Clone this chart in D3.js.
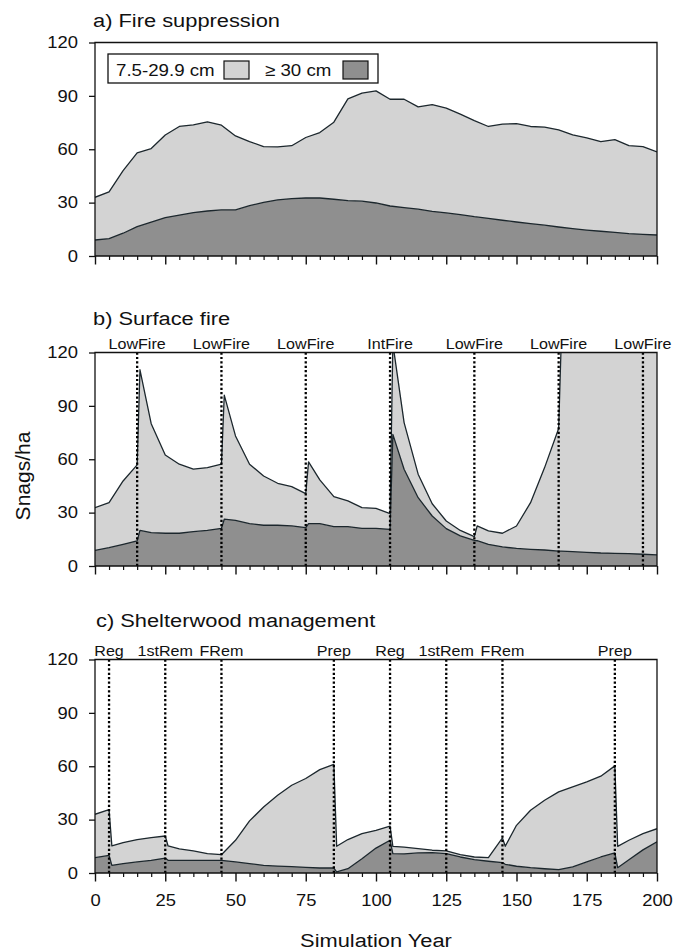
<!DOCTYPE html>
<html>
<head>
<meta charset="utf-8">
<script src="https://cdn.jsdelivr.net/npm/d3@7"></script>
<style>
  body { margin: 0; background: #fff; }
  text { font-family: "Liberation Sans", Arial, sans-serif; fill: #111; }
</style>
</head>
<body>
<svg id="chart"></svg>
<script>
// Snags/ha by size class under three scenarios

const seriesLabels = ["7.5-29.9 cm", "\u2265 30 cm"];
const yTicks = [0, 30, 60, 90, 120];
const xMajorTicks = [0, 25, 50, 75, 100, 125, 150, 175, 200];

// a) Fire suppression
const yearsA = [0, 5, 10, 15, 20, 25, 30, 35, 40, 45, 50, 55, 60, 65, 70, 75, 80, 85, 90, 95, 100,
  105, 110, 115, 120, 125, 130, 135, 140, 145, 150, 155, 160, 165, 170, 175, 180, 185, 190, 195, 200];
const largeA = [9, 9.8, 12.8, 16.5, 19.1, 21.6, 23, 24.4, 25.3, 25.9, 25.9, 28.3, 30.2, 31.5, 32.3, 32.6, 32.6, 31.9, 31.1, 30.8, 29.8,
  28.1, 27.2, 26.3, 25.1, 24.2, 23.3, 22.1, 21.2, 20.1, 19.1, 18.2, 17.3, 16.3, 15.4, 14.6, 13.9, 13.3, 12.6, 12.2, 11.8];
const smallA = [24, 26.2, 35.2, 41.5, 41.3, 46.4, 49.8, 49.3, 50.1, 47.6, 41.6, 36, 31.3, 29.8, 29.7, 34, 36.8, 43.3, 57.2, 60.7, 63,
  60, 60.9, 57.5, 60, 58.9, 56.4, 54, 51.6, 54, 55.3, 54.6, 55.1, 54.6, 52.7, 51.8, 50.4, 52.1, 49.4, 49.3, 46.7];

// b) Surface fire
const yearsB = [0, 5, 10, 15, 16, 20, 25, 30, 35, 40, 45, 46, 50, 55, 60, 65, 70, 75, 76, 80, 85, 90, 95, 100,
  105, 106, 110, 115, 120, 125, 130, 135, 136, 140, 145, 150, 155, 160, 165, 166, 170, 175, 180, 185, 190, 195, 200];
const largeB = [8.8, 10.3, 12.2, 14.1, 20, 18.8, 18.4, 18.4, 19.3, 20, 21.2, 26.3, 25.7, 23.8, 22.9, 22.9, 22.5, 21.6, 23.8, 23.8, 22.1, 22.1, 21.2, 21.2,
  20.6, 74, 54.4, 38.4, 28.1, 21, 16.9, 14.4, 14.2, 12.2, 10.7, 9.9, 9.4, 9, 8.4, 8.4, 8.1, 7.7, 7.3, 7.1, 6.9, 6.6, 6.2];
const smallB = [24, 25.3, 35.6, 42.7, 90.3, 61.2, 44, 38.8, 35.1, 35.3, 36, 69.7, 47.4, 33.4, 27.7, 23.6, 22.1, 19.1, 34.7, 24.6, 16.9, 14.5, 11.6, 11.2,
  8.8, 51, 26.2, 13.2, 6.9, 4.3, 3.1, 2.1, 8.3, 7.5, 7.7, 12.6, 26.2, 46.3, 68.9, 122, 122, 122, 123, 123, 123, 123, 124];
const eventYearsB = [15, 45, 75, 105, 135, 165, 195];
const eventNamesB = ["LowFire", "LowFire", "LowFire", "IntFire", "LowFire", "LowFire", "LowFire"];

// c) Shelterwood management
const yearsC = [0, 5, 6, 10, 15, 20, 25, 26, 30, 35, 40, 45, 50, 55, 60, 65, 70, 75, 80, 85, 86, 90, 95, 100,
  105, 106, 110, 115, 120, 125, 130, 135, 140, 145, 146, 150, 155, 160, 165, 170, 175, 180, 185, 186, 190, 195, 200];
const largeC = [8.6, 9.9, 4.3, 5.3, 6.2, 7.1, 8.4, 7.1, 7.1, 7.1, 7.1, 7.1, 6.2, 5.3, 4.3, 3.9, 3.6, 3.2, 2.8, 2.8, 0.6, 2.4, 8, 14,
  18.4, 10.9, 10.7, 11.3, 11.4, 10.9, 9, 7.5, 6.6, 5.8, 4.9, 3.8, 3, 2.4, 1.9, 3.4, 6.2, 9, 11.3, 3, 7.5, 13, 17.5];
const smallC = [24.4, 25.7, 10.9, 11.8, 12.6, 12.8, 12.4, 8.1, 6.4, 5.3, 3.8, 3.2, 12.2, 24, 32.8, 39.8, 45.7, 49.9, 55.3, 58.3, 14.4, 16.4, 14.1, 10,
  7.9, 4.1, 3.9, 2.4, 1.4, 1.5, 1.3, 1.5, 2, 13.9, 10.1, 23, 32.3, 38.5, 43.7, 45, 45, 45.4, 48.9, 12, 10.9, 9.1, 7.4];
const eventYearsC = [5, 25, 45, 85, 105, 125, 145, 185];
const eventNamesC = ["Reg", "1stRem", "FRem", "Prep", "Reg", "1stRem", "FRem", "Prep"];

// Layout
const width = 686, height = 951;
const plotLeft = 95, plotRight = 657, plotH = 213.5;
const lightFill = "#d3d3d3", darkFill = "#8f8f8f", lineColor = "#1c272d";
const stretchK = 1.15;

const svg = d3.select("#chart").attr("width", width).attr("height", height);

const x = d3.scaleLinear().domain([0, 200]).range([plotLeft, plotRight]);

// image text is a bit wider than Arial, so scale glyphs horizontally around their anchor
function stretch(sel, k) {
  sel.each(function() {
    const t = d3.select(this);
    const tx = +t.attr("x") || 0, ty = +t.attr("y") || 0;
    t.attr("transform", `translate(${tx},${ty}) scale(${k},1) translate(${-tx},${-ty})`);
  });
}

const panels = [
  { id: "a", title: "a) Fire suppression", bottom: 256, titleY: 27, years: yearsA, large: largeA, small: smallA, events: [], names: [] },
  { id: "b", title: "b) Surface fire", bottom: 566, titleY: 325, years: yearsB, large: largeB, small: smallB, events: eventYearsB, names: eventNamesB },
  { id: "c", title: "c) Shelterwood management", bottom: 873, titleY: 627, years: yearsC, large: largeC, small: smallC, events: eventYearsC, names: eventNamesC }
];

panels.forEach((p, pi) => {
  const y = d3.scaleLinear().domain([0, 120]).range([p.bottom, p.bottom - plotH]);
  const g = svg.append("g");

  g.append("clipPath").attr("id", "clip-" + p.id)
    .append("rect")
    .attr("x", plotLeft).attr("y", y(120))
    .attr("width", plotRight - plotLeft).attr("height", plotH);

  const rows = p.years.map((yr, i) => ({ year: yr, large: p.large[i], small: p.small[i] }));
  const stacked = d3.stack().keys(["large", "small"])(rows);

  const area = d3.area()
    .x(d => x(d.data.year))
    .y0(d => y(d[0]))
    .y1(d => y(d[1]));
  const line = d3.line()
    .x(d => x(d.data.year))
    .y(d => y(d[1]));

  const plot = g.append("g").attr("clip-path", `url(#clip-${p.id})`);
  plot.selectAll("path.area")
    .data(stacked)
    .join("path")
    .attr("class", "area")
    .attr("fill", (d, i) => i === 0 ? darkFill : lightFill)
    .attr("d", area);
  plot.selectAll("path.edge")
    .data(stacked)
    .join("path")
    .attr("class", "edge")
    .attr("fill", "none")
    .attr("stroke", lineColor)
    .attr("stroke-width", 1.3)
    .attr("stroke-linejoin", "round")
    .attr("d", line);

  // event markers (dotted)
  g.selectAll("line.event")
    .data(p.events)
    .join("line")
    .attr("class", "event")
    .attr("x1", d => x(d)).attr("x2", d => x(d))
    .attr("y1", y(120)).attr("y2", y(0))
    .attr("stroke", "#000")
    .attr("stroke-width", 2.3)
    .attr("stroke-dasharray", "2.2,2.2");

  const evText = g.selectAll("text.event")
    .data(p.events)
    .join("text")
    .attr("class", "event")
    .attr("x", d => x(d))
    .attr("y", y(120) - 3.5)
    .attr("text-anchor", "middle")
    .attr("font-size", 14)
    .text((d, i) => p.names[i]);
  stretch(evText, stretchK);

  // frame
  g.append("path")
    .attr("d", `M${plotLeft},${y(0)}V${y(120)}H${plotRight}V${y(0)}Z`)
    .attr("fill", "none")
    .attr("stroke", "#111")
    .attr("stroke-width", 1.3);

  // y axis
  const yAxis = g.append("g")
    .attr("transform", `translate(${plotLeft},0)`)
    .call(d3.axisLeft(y).tickValues(yTicks).tickSize(6).tickSizeOuter(0).tickPadding(11));
  yAxis.select(".domain").remove();
  yAxis.selectAll("line").attr("stroke", "#111").attr("stroke-width", 1.3);
  yAxis.selectAll("text").attr("font-size", 16).attr("font-family", null).call(stretch, stretchK);

  // x axis, major + minor ticks
  const minor = d3.range(5, 200, 5).filter(v => v % 25 !== 0);
  const xMinor = g.append("g")
    .attr("transform", `translate(0,${y(0)})`)
    .call(d3.axisBottom(x).tickValues(minor).tickSize(4).tickSizeOuter(0).tickFormat(""));
  xMinor.select(".domain").remove();
  xMinor.selectAll("line").attr("stroke", "#111").attr("stroke-width", 1.2);

  const xMajor = g.append("g")
    .attr("transform", `translate(0,${y(0)})`)
    .call(d3.axisBottom(x).tickValues(xMajorTicks).tickSize(8.5).tickSizeOuter(0).tickPadding(13.5)
      .tickFormat(pi === 2 ? d3.format("d") : () => ""));
  xMajor.select(".domain").remove();
  xMajor.selectAll("line").attr("stroke", "#111").attr("stroke-width", 1.4);
  xMajor.selectAll("text").attr("font-size", 16).attr("font-family", null).call(stretch, stretchK);

  // title
  svg.append("text")
    .attr("x", pi === 2 ? 96 : 93)
    .attr("y", p.titleY)
    .attr("font-size", 19)
    .text(p.title)
    .call(stretch, stretchK);
});

// legend in panel a
const legend = svg.append("g");
legend.append("rect")
  .attr("x", 108).attr("y", 54).attr("width", 270).attr("height", 29)
  .attr("fill", "#fff").attr("stroke", "#111").attr("stroke-width", 1.3);
const legendItems = [
  { label: seriesLabels[0], tx: 116, sx: 224, fill: lightFill },
  { label: seriesLabels[1], tx: 265, sx: 343, fill: darkFill }
];
legend.selectAll("rect.swatch")
  .data(legendItems)
  .join("rect")
  .attr("class", "swatch")
  .attr("x", d => d.sx).attr("y", 61).attr("width", 25).attr("height", 18)
  .attr("fill", d => d.fill).attr("stroke", "#111").attr("stroke-width", 1.2);
legend.selectAll("text")
  .data(legendItems)
  .join("text")
  .attr("x", d => d.tx).attr("y", 76)
  .attr("font-size", 17)
  .text(d => d.label)
  .call(stretch, 1.1);

// axis titles
svg.append("text")
  .attr("transform", "translate(30,476) rotate(-90)")
  .attr("text-anchor", "middle")
  .attr("font-size", 21)
  .text("Snags/ha");

svg.append("text")
  .attr("x", (plotLeft + plotRight) / 2)
  .attr("y", 947)
  .attr("text-anchor", "middle")
  .attr("font-size", 19)
  .text("Simulation Year")
  .call(stretch, stretchK);
</script>
</body>
</html>
